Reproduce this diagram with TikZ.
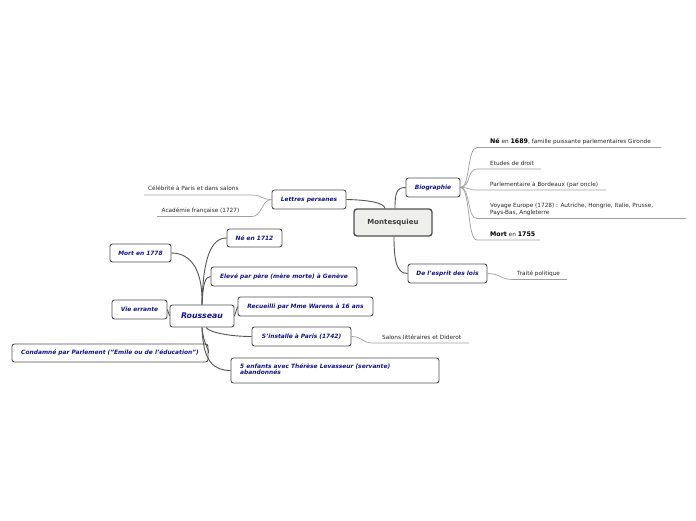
\documentclass[tikz,border=0pt]{standalone}
\usepackage{fontspec}
\setmainfont{DejaVu Sans}[ItalicFont={DejaVu Sans Oblique},BoldFont={DejaVu Sans Bold},BoldItalicFont={DejaVu Sans Bold Oblique}]
\definecolor{nodeblue}{RGB}{18,18,140}
\definecolor{boxc}{RGB}{80,80,80}
\definecolor{connc}{RGB}{85,85,85}
\definecolor{leafc}{RGB}{160,160,160}
\definecolor{leaftext}{RGB}{40,40,40}
\definecolor{centerfill}{RGB}{239,239,236}
\begin{document}
\begin{tikzpicture}[x=1pt,y=-1pt,
  box/.style={draw=boxc, line width=0.9pt, rounded corners=2.5pt, fill=white, inner sep=0pt,
    font=\fontsize{5.9}{7}\selectfont\bfseries\itshape, text=nodeblue},
  boxtext/.style={inner sep=0pt, font=\fontsize{5.9}{7}\selectfont\bfseries\itshape, text=nodeblue},
  center/.style={draw=boxc, line width=1.4pt, rounded corners=3pt, fill=centerfill, inner sep=0pt,
    font=\fontsize{7}{8}\selectfont\bfseries, text=black!75},
  conn/.style={draw=connc, line width=0.9pt},
  leafline/.style={draw=leafc, line width=0.7pt},
  leaf/.style={inner sep=0pt, font=\fontsize{5.75}{7}\selectfont, text=leaftext, anchor=base west},
  emph/.style={}]
\useasboundingbox[fill=white] (0,0) rectangle (696,520);

% ---------------- Montesquieu ----------------
\node[center, minimum width=78pt, minimum height=27pt] (mq) at (393,222.5) {Montesquieu};
\node[box, minimum width=54pt, minimum height=19pt] (bio) at (433,187.5) {Biographie};
\node[box, minimum width=79pt, minimum height=19pt] (esp) at (447.5,273.5) {De l'esprit des lois};
\node[box, minimum width=74pt, minimum height=19pt] (lp) at (309,199.5) {Lettres persanes};

\draw[conn] (lp.east) .. controls (370,200) and (384,203) .. ([xshift=-8pt]mq.north);
\draw[conn] ([xshift=2pt]mq.north) .. controls (395,192) and (397,187.5) .. (bio.west);
\draw[conn] ([xshift=1pt]mq.south) .. controls (394,262) and (397,273.5) .. (esp.west);

% Biographie leaves
\coordinate (b1s) at (477,147.5); \coordinate (b1e) at (661,147.5);
\coordinate (b2s) at (477,169);   \coordinate (b2e) at (541,169);
\coordinate (b3s) at (477,190);   \coordinate (b3e) at (606,190);
\coordinate (b4s) at (477,218.5); \coordinate (b4e) at (686,218.5);
\coordinate (b5s) at (477,240);   \coordinate (b5e) at (540,240);
\foreach \i in {1,...,5}{
  \draw[leafline] (bio.east) .. controls +(10,0) and +(-10,0) .. (b\i s) -- (b\i e);
}
\node[leaf] (t1) at (490,143.5) {{\fontsize{6.3}{7}\selectfont\bfseries\color{black}Né} en {\fontsize{6.3}{7}\selectfont\bfseries\color{black}1689}, famille puissante parlementaires Gironde};
\node[leaf] (t2) at (490,165) {Etudes de droit};
\node[leaf] (t3) at (490,186) {Parlementaire à Bordeaux (par oncle)};
\node[leaf] (t4a) at (490,207) {Voyage Europe (1728) : Autriche, Hongrie, Italie, Prusse,};
\node[leaf] (t4b) at (490,214.5) {Pays-Bas, Angleterre};
\node[leaf] (t5) at (490,236) {{\fontsize{6.3}{7}\selectfont\bfseries\color{black}Mort} en {\fontsize{6.3}{7}\selectfont\bfseries\color{black}1755}};

% Esprit des lois leaf
\coordinate (e1s) at (513,279.5); \coordinate (e1e) at (567,279.5);
\draw[leafline] (esp.east) .. controls +(13,0) and +(-13,0) .. (e1s) -- (e1e);
\node[leaf] (te1) at (517,275) {Traité politique};

% Lettres persanes leaves
\coordinate (l1s) at (252,195); \coordinate (l1e) at (144,195);
\coordinate (l2s) at (252,216.5); \coordinate (l2e) at (157,216.5);
\draw[leafline] (lp.west) .. controls +(-10,0) and +(10,0) .. (l1s) -- (l1e);
\draw[leafline] (lp.west) .. controls +(-10,0) and +(10,0) .. (l2s) -- (l2e);
\node[leaf] (tl1) at (148,190.5) {Célébrité à Paris et dans salons};
\node[leaf] (tl2) at (161.5,212) {Académie française (1727)};

% ---------------- Rousseau ----------------
\node[box, minimum width=64pt, minimum height=22pt, font=\fontsize{7.8}{9}\selectfont\bfseries\itshape] (rou) at (202,316) {Rousseau};
\node[box, minimum width=55pt, minimum height=18pt] (ne) at (254.5,238) {Né en 1712};
\node[box, minimum width=61pt, minimum height=18pt] (mort) at (140.5,253) {Mort en 1778};
\node[box, minimum width=146pt, minimum height=19pt] (elev) at (284,276.5) {Elevé par père (mère morte) à Genève};
\node[box, minimum width=135pt, minimum height=19pt] (rec) at (305.5,306.5) {Recueilli par Mme Warens à 16 ans};
\node[box, minimum width=55pt, minimum height=19pt] (vie) at (139.5,309.5) {Vie errante};
\node[box, minimum width=99pt, minimum height=19pt] (inst) at (301.5,336.5) {S'installe à Paris (1742)};
\node[box, minimum width=196pt, minimum height=18pt] (cond) at (110,353) {Condamné par Parlement ("Emile ou de l'éducation")};
\node[box, minimum width=208pt, minimum height=25pt] (enf) at (335,370.5) {};
\node[boxtext, anchor=north west, align=left] (enft) at (240,364) {5 enfants avec Thérèse Levasseur (servante)\\[-1.2pt]abandonnés};

\draw[conn] (rou.north) .. controls (203,258) and (211,238) .. (ne.west);
\draw[conn] (mort.east) .. controls (192,253) and (203,272) .. (rou.north);
\draw[conn] (rou.north) .. controls (203,284) and (205,276.5) .. (elev.west);
\draw[conn] (rou.east) -- (rec.west);
\draw[conn] (vie.east) -- (rou.west);
\draw[conn] ([xshift=4pt]rou.south) .. controls (210,333) and (232,336.5) .. (inst.west);
\draw[conn] (rou.south) .. controls (203,362) and (214,370.5) .. (enf.west);
\draw[conn] (rou.south) .. controls (203,344) and (211,353) .. (cond.east);

% S'installe leaf
\coordinate (s1s) at (373,343); \coordinate (s1e) at (469,343);
\draw[leafline] (inst.east) .. controls +(12,0) and +(-12,0) .. (s1s) -- (s1e);
\node[leaf] (ts1) at (382,339) {Salons littéraires et Diderot};
\end{tikzpicture}
\end{document}
